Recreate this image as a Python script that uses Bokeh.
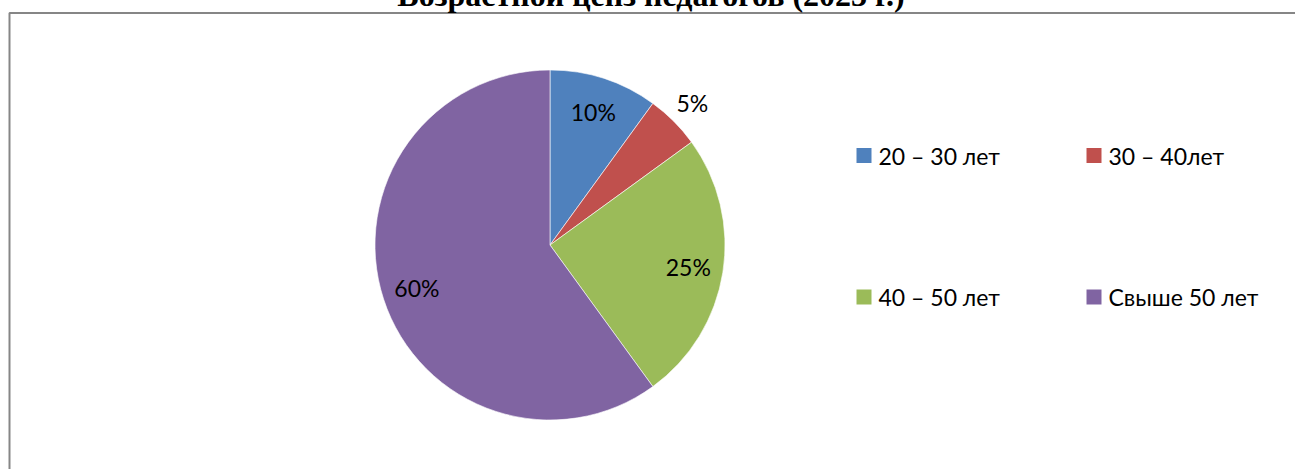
import math
from bokeh.plotting import figure
from bokeh.models import Range1d, ColumnDataSource
from bokeh.core.properties import value
from bokeh.embed import file_html
from bokeh.resources import INLINE

# ---- data ----
categories = ["20 – 30 лет", "30 – 40лет", "40 – 50 лет", "Свыше 50 лет"]
shares = [10, 5, 25, 60]
labels = ["10%", "5%", "25%", "60%"]
colors = ["#4F81BD", "#C0504D", "#9BBB59", "#8064A2"]
title_text = "Возрастной ценз педагогов (2023 г.)"

# ---- layout (canvas pixels == data units) ----
W, H = 1295, 501
TOP_SHIFT = 32          # canvas starts above the page top so the title is clipped
def py(page_y):         # page y -> data y
    return (H - TOP_SHIFT) - page_y
def px(page_x):
    return page_x

p = figure(width=W, height=H, x_range=Range1d(0, W), y_range=Range1d(0, H),
           output_backend="svg", toolbar_location=None, min_border=0,
           x_axis_location=None, y_axis_location=None,
           margin=(-TOP_SHIFT, 0, 0, 0))
p.grid.visible = False
p.outline_line_color = None
p.background_fill_color = "white"
p.border_fill_color = "white"

# chart-area frame (top and left edges visible)
p.line(x=[px(9), px(9), px(1400)], y=[py(600), py(12.5), py(12.5)],
       line_color="#868686", line_width=2)

# title (mostly above the visible page, as in the reference)
p.text(x=[px(650.5)], y=[py(-6)], text=[title_text],
       text_font=value("Liberation Serif"), text_font_style="bold",
       text_font_size="32px", text_align="center", text_baseline="alphabetic",
       text_color="black")

# pie
cx, cy, R = px(549.5), py(244.5), 175
total = float(sum(shares))
starts, ends, lx, ly = [], [], [], []
cum = 0.0
for s in shares:
    a0 = math.pi / 2 - 2 * math.pi * cum / total
    cum += s
    a1 = math.pi / 2 - 2 * math.pi * cum / total
    starts.append(a0)
    ends.append(a1)
    mid = (a0 + a1) / 2
    rr = R * (1.15 if s / total < 0.08 else 0.8)
    lx.append(cx + rr * math.cos(mid))
    ly.append(cy + rr * math.sin(mid))

src = ColumnDataSource(dict(start=starts, end=ends, color=colors,
                            lx=lx, ly=ly, label=labels))
p.wedge(x=cx, y=cy, radius=R, start_angle="start", end_angle="end",
        direction="clock", fill_color="color", line_color="white",
        line_width=0.6, source=src)
p.text(x="lx", y="ly", text="label", source=src,
       text_font=value("Lato"), text_font_size="23px",
       text_align="center", text_baseline="middle", text_color="black")

# legend (2 x 2 grid)
col_x = [px(856), px(1086)]
row_y = [py(155), py(296.5)]
sq_x, sq_y, tx, ty = [], [], [], []
for i, c in enumerate(categories):
    cxl = col_x[i % 2]
    ryl = row_y[i // 2]
    sq_x.append(cxl + 7.5)
    sq_y.append(ryl)
    tx.append(cxl + 22)
    ty.append(ryl)
leg = ColumnDataSource(dict(x=sq_x, y=sq_y, tx=tx, ty=ty, color=colors, text=categories))
p.scatter(x="x", y="y", marker="square", size=15, fill_color="color",
          line_color=None, source=leg)
p.text(x="tx", y="ty", text="text", source=leg,
       text_font=value("Lato"), text_font_size="23px",
       text_align="left", text_baseline="middle", text_color="black")

open("out.html", "w").write(file_html(p, INLINE))
